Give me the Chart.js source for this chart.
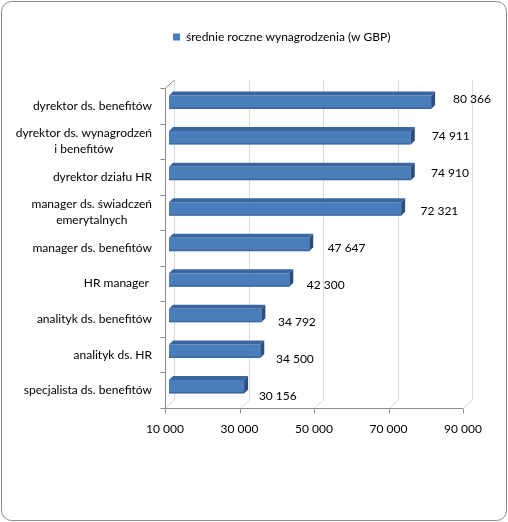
<!DOCTYPE html>
<html>
<head>
<meta charset="utf-8">
<script src="https://cdn.jsdelivr.net/npm/chart.js@4.4.1/dist/chart.umd.min.js"></script>
<style>
html,body{margin:0;padding:0;background:#fff;}
#wrap{width:508px;height:522px;}
</style>
</head>
<body>
<div id="wrap"><canvas id="salaryChart"></canvas></div>
<script>
// DATA

const categories = [
"dyrektor ds. benefitów",
["dyrektor ds. wynagrodzeń","i benefitów"],
"dyrektor działu HR",
["manager ds. świadczeń","emerytalnych"],
"manager ds. benefitów",
"HR manager ",
"analityk ds. benefitów",
"analityk ds. HR",
"specjalista ds. benefitów"
];

const salaries = [80366,74911,74910,72321,47647,42300,34792,34500,30156];

const xTicks = [10000,30000,50000,70000,90000];

const seriesName = "średnie roczne wynagrodzenia (w GBP)";

// LOOK

const FONT = "Lato, 'Open Sans', sans-serif";
const WALL = {dx:9, dy:-8};     // depth of the back wall
const BAR_SHIFT = {dx:4, dy:-3.5}; // bars sit half way in the depth
const BAR_DEPTH = {dx:4, dy:-4};

function fmt(v){
return String(Math.round(v)).replace(/\B(?=(\d{3})+(?!\d))/g," ");
}

function line(ctx,x1,y1,x2,y2){
ctx.beginPath();
ctx.moveTo(x1,y1);
ctx.lineTo(x2,y2);
ctx.stroke();
}

// 3D frame, bars faces, labels

const frame3d = {
id:"frame3d",

beforeDraw(chart){
const ctx = chart.ctx;
ctx.save();
ctx.fillStyle = "#fff";
ctx.fillRect(0,0,chart.width,chart.height);
ctx.strokeStyle = "#8a8a8a";
ctx.lineWidth = 1;
ctx.beginPath();
ctx.roundRect(1.5,1.5,chart.width-3,chart.height-3,10);
ctx.stroke();
ctx.restore();
},

beforeDatasetsDraw(chart){
const ctx = chart.ctx;
const a = chart.chartArea;
const xs = chart.scales.x;
const ys = chart.scales.y;
ctx.save();
ctx.lineWidth = 1;

// back grid lines and floor
ctx.strokeStyle = "#d9d9d9";
xTicks.forEach(v=>{
const x = Math.round(xs.getPixelForValue(v))+0.5;
line(ctx,x+WALL.dx,a.top+WALL.dy,x+WALL.dx,a.bottom+WALL.dy);
line(ctx,x+WALL.dx,a.bottom+WALL.dy,x,a.bottom);
});

// left wall
ctx.strokeStyle = "#8c8c8c";
const lx = Math.round(a.left)+0.5;
line(ctx,lx,a.top,lx,a.bottom);
line(ctx,lx,a.top,lx+WALL.dx,a.top+WALL.dy);

// front axis and ticks
const by = Math.round(a.bottom)+0.5;
line(ctx,a.left,by,a.right,by);
xTicks.forEach(v=>{
const x = Math.round(xs.getPixelForValue(v))+0.5;
line(ctx,x,by,x,by+5);
});
const step = (a.bottom-a.top)/categories.length;
for(let i=0;i<=categories.length;i++){
const y = Math.round(a.top+i*step)+0.5;
line(ctx,lx-5,y,lx,y);
}
ctx.restore();

// bars are drawn moved into the depth
ctx.save();
ctx.translate(BAR_SHIFT.dx,BAR_SHIFT.dy);
},

afterDatasetsDraw(chart){
const ctx = chart.ctx;
const meta = chart.getDatasetMeta(0);

meta.data.forEach(bar=>{
const p = bar.getProps(["x","y","base","height"],true);
const top = p.y-p.height/2;
const bot = p.y+p.height/2;

// top face
ctx.fillStyle = "#3A67A0";
ctx.beginPath();
ctx.moveTo(p.base,top);
ctx.lineTo(p.base+BAR_DEPTH.dx,top+BAR_DEPTH.dy);
ctx.lineTo(p.x+BAR_DEPTH.dx,top+BAR_DEPTH.dy);
ctx.lineTo(p.x,top);
ctx.closePath();
ctx.fill();

// side face
ctx.fillStyle = "#2B4F7E";
ctx.beginPath();
ctx.moveTo(p.x,top);
ctx.lineTo(p.x+BAR_DEPTH.dx,top+BAR_DEPTH.dy);
ctx.lineTo(p.x+BAR_DEPTH.dx,bot+BAR_DEPTH.dy);
ctx.lineTo(p.x,bot);
ctx.closePath();
ctx.fill();

// darker bottom edge of front face
ctx.fillStyle = "rgba(30,60,110,0.35)";
ctx.fillRect(p.base,bot-1.5,p.x-p.base,1.5);
});
ctx.restore();

// value labels
ctx.save();
ctx.font = "12px "+FONT;
ctx.fillStyle = "#000";
ctx.textBaseline = "middle";
ctx.textAlign = "left";
meta.data.forEach((bar,i)=>{
const p = bar.getProps(["x","y"],true);
const x = p.x+BAR_SHIFT.dx+22-0.9*i;
const y = p.y+BAR_SHIFT.dy-3+1.6*i;
ctx.fillText(fmt(salaries[i]),x,y);
});
ctx.restore();
},

afterDraw(chart){
// category labels: block right aligned, lines centred in block
const ctx = chart.ctx;
const a = chart.chartArea;
const ys = chart.scales.y;
const right = a.left-13;
const lh = 16;
ctx.save();
ctx.font = "12px "+FONT;
ctx.fillStyle = "#000";
ctx.textBaseline = "middle";
ctx.textAlign = "center";
categories.forEach((lab,i)=>{
const lines = Array.isArray(lab) ? lab : [lab];
const w = Math.max(...lines.map(t=>ctx.measureText(t).width));
const cx = right-w/2;
const cy = ys.getPixelForValue(i);
lines.forEach((t,k)=>{
ctx.fillText(t,cx,cy+(k-(lines.length-1)/2)*lh);
});
});
ctx.restore();
}
};

// CHART

new Chart(
document.getElementById("salaryChart"),
{
type:"bar",
data:{
labels:categories,
datasets:[{
label:seriesName,
data:salaries,
base:xTicks[0],
backgroundColor:"#4A7EBB",
borderWidth:0,
categoryPercentage:1,
barPercentage:0.38
}]
},
options:{
indexAxis:"y",
responsive:true,
maintainAspectRatio:false,
animation:false,
layout:{padding:{left:165,right:45,top:23,bottom:84}},
plugins:{
legend:{
position:"top",
align:"start",
fullSize:false,
labels:{
boxWidth:7,
boxHeight:7,
padding:8,
color:"#000",
font:{family:FONT,size:12}
}
},
tooltip:{enabled:false}
},
scales:{
x:{
type:"linear",
min:xTicks[0],
max:xTicks[xTicks.length-1],
grid:{display:false,drawTicks:false},
border:{display:false},
ticks:{
stepSize:20000,
padding:14,
color:"#000",
font:{family:FONT,size:12},
callback:v=>fmt(v)
},
afterFit:s=>{s.height=30;}
},
spacer:{
type:"linear",
axis:"x",
position:"top",
display:true,
grid:{display:false,drawTicks:false},
border:{display:false},
ticks:{display:false},
afterFit:s=>{s.height=35;}
},
y:{
type:"category",
display:false
}
}
},
plugins:[frame3d]
}
);
</script>
</body>
</html>
